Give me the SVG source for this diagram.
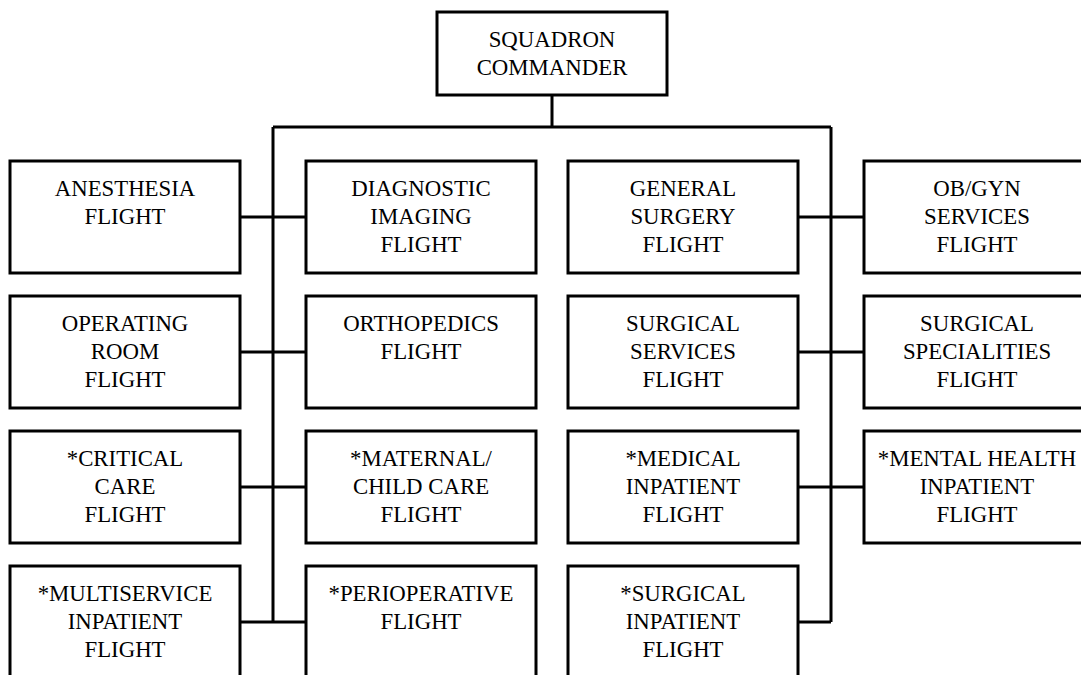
<svg xmlns="http://www.w3.org/2000/svg" width="1081" height="675" viewBox="0 0 1081 675">
<style>
.box{fill:#fff;stroke:#000;stroke-width:3}
.ln{fill:none;stroke:#000;stroke-width:3}
text{font-family:"Liberation Serif","Times New Roman",serif;font-size:22.8px;fill:#000;text-anchor:middle}
</style>
<rect width="1081" height="675" fill="#fff"/>
<g id="connectors">
<path class="ln" d="M552,95V127M273,127H831M273,127V622M831,127V622"/>
<path class="ln" d="M240,217H306M798,217H864M240,352H306M798,352H864M240,487H306M798,487H864M240,622H306M798,622H831"/>
</g>
<g id="n0"><rect class="box" x="437" y="12" width="230" height="83"/><text x="552" y="47">SQUADRON</text><text x="552" y="75">COMMANDER</text></g>
<g id="n1"><rect class="box" x="10" y="161" width="230" height="112"/><text x="125" y="196">ANESTHESIA</text><text x="125" y="224">FLIGHT</text></g>
<g id="n2"><rect class="box" x="306" y="161" width="230" height="112"/><text x="421" y="196">DIAGNOSTIC</text><text x="421" y="224">IMAGING</text><text x="421" y="252">FLIGHT</text></g>
<g id="n3"><rect class="box" x="568" y="161" width="230" height="112"/><text x="683" y="196">GENERAL</text><text x="683" y="224">SURGERY</text><text x="683" y="252">FLIGHT</text></g>
<g id="n4"><rect class="box" x="864" y="161" width="230" height="112"/><text x="977" y="196">OB/GYN</text><text x="977" y="224">SERVICES</text><text x="977" y="252">FLIGHT</text></g>
<g id="n5"><rect class="box" x="10" y="296" width="230" height="112"/><text x="125" y="331">OPERATING</text><text x="125" y="359">ROOM</text><text x="125" y="387">FLIGHT</text></g>
<g id="n6"><rect class="box" x="306" y="296" width="230" height="112"/><text x="421" y="331">ORTHOPEDICS</text><text x="421" y="359">FLIGHT</text></g>
<g id="n7"><rect class="box" x="568" y="296" width="230" height="112"/><text x="683" y="331">SURGICAL</text><text x="683" y="359">SERVICES</text><text x="683" y="387">FLIGHT</text></g>
<g id="n8"><rect class="box" x="864" y="296" width="230" height="112"/><text x="977" y="331">SURGICAL</text><text x="977" y="359">SPECIALITIES</text><text x="977" y="387">FLIGHT</text></g>
<g id="n9"><rect class="box" x="10" y="431" width="230" height="112"/><text x="125" y="466">*CRITICAL</text><text x="125" y="494">CARE</text><text x="125" y="522">FLIGHT</text></g>
<g id="n10"><rect class="box" x="306" y="431" width="230" height="112"/><text x="421" y="466">*MATERNAL/</text><text x="421" y="494">CHILD CARE</text><text x="421" y="522">FLIGHT</text></g>
<g id="n11"><rect class="box" x="568" y="431" width="230" height="112"/><text x="683" y="466">*MEDICAL</text><text x="683" y="494">INPATIENT</text><text x="683" y="522">FLIGHT</text></g>
<g id="n12"><rect class="box" x="864" y="431" width="230" height="112"/><text x="977" y="466">*MENTAL HEALTH</text><text x="977" y="494">INPATIENT</text><text x="977" y="522">FLIGHT</text></g>
<g id="n13"><rect class="box" x="10" y="566" width="230" height="112"/><text x="125" y="601">*MULTISERVICE</text><text x="125" y="629">INPATIENT</text><text x="125" y="657">FLIGHT</text></g>
<g id="n14"><rect class="box" x="306" y="566" width="230" height="112"/><text x="421" y="601">*PERIOPERATIVE</text><text x="421" y="629">FLIGHT</text></g>
<g id="n15"><rect class="box" x="568" y="566" width="230" height="112"/><text x="683" y="601">*SURGICAL</text><text x="683" y="629">INPATIENT</text><text x="683" y="657">FLIGHT</text></g>
</svg>
